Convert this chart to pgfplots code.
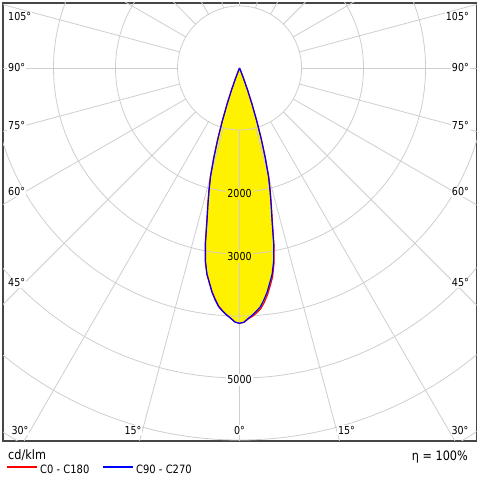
\documentclass[border=0pt]{standalone}
\usepackage{fontspec}
\setmainfont{DejaVu Sans}[FakeStretch=0.87]
\usepackage{pgfplots}
\usepackage{pgfplotstable}
\pgfplotsset{compat=1.18}
\definecolor{gridgray}{RGB}{206,206,206}
\definecolor{framegray}{RGB}{70,70,70}
\definecolor{cred}{RGB}{255,0,0}
\definecolor{cblue}{RGB}{0,0,255}
\newcommand\lbl{\fontsize{11}{12}\selectfont}

% C90 - C270 (negative g: C270 side, positive g: C90 side)
\pgfplotstableread{
g I
-23 0
-22 40
-21 190
-20 390
-19 620
-18 900
-17 1200
-16 1500
-15 1800
-14 2030
-13 2265
-12 2525
-11 2885
-10 3165
-9 3365
-8 3500
-7 3645
-6 3760
-5 3865
-4 3930
-3 3990
-2 4040
-1 4100
0 4118
1 4100
2 4040
3 3990
4 3930
5 3865
6 3760
7 3645
8 3500
9 3365
10 3165
11 2885
12 2525
13 2265
14 2030
15 1800
16 1500
17 1200
18 900
19 620
20 390
21 190
22 40
23 0
}\blueC

% C0 - C180 (negative g: C180 side, positive g: C0 side)
\pgfplotstableread{
g I
-23 0
-22 40
-21 190
-20 390
-19 620
-18 905
-17 1210
-16 1515
-15 1820
-14 2050
-13 2285
-12 2545
-11 2900
-10 3175
-9 3365
-8 3495
-7 3635
-6 3750
-5 3855
-4 3925
-3 3985
-2 4040
-1 4100
0 4118
1 4102
2 4050
3 4010
4 3960
5 3900
6 3805
7 3690
8 3550
9 3410
10 3200
11 2910
12 2550
13 2285
14 2050
15 1820
16 1515
17 1210
18 905
19 620
20 390
21 190
22 40
23 0
}\redC

\begin{document}
\begin{tikzpicture}
\begin{axis}[
  at={(0,0)}, anchor=south west,
  scale only axis, width=473.5bp, height=438bp,
  xmin=-3815, xmax=3822, ymin=-6016, ymax=1048,
  xtick=\empty, ytick=\empty,
  axis line style={framegray, line width=1.3bp},
  clip mode=global,
]
\addplot[fill=yellow, draw=none, data cs=polar] table[x expr=\thisrow{g}-90, y=I]{\redC};
\addplot[fill=yellow, draw=none, data cs=polar] table[x expr=\thisrow{g}-90, y=I]{\blueC};
% grid
\pgfplotsinvokeforeach{1000,2000,...,7000}{\draw[gridgray, line width=0.8bp] (0,0) circle[radius=#1];}
\pgfplotsinvokeforeach{0,15,...,345}{\draw[gridgray, line width=0.8bp] ({1000*cos(#1)},{1000*sin(#1)}) -- ({8000*cos(#1)},{8000*sin(#1)});}
% curves
\addplot[cred, line width=1.2bp, line join=round, data cs=polar] table[x expr=\thisrow{g}-90, y=I]{\redC};
\addplot[cblue, line width=1.2bp, line join=round, data cs=polar] table[x expr=\thisrow{g}-90, y=I]{\blueC};
% radial labels
\node[fill=yellow, inner sep=1.5bp, font=\lbl] at (0,-2032) {2000};
\node[fill=yellow, inner sep=1.5bp, font=\lbl] at (0,-3048) {3000};
\node[fill=white, inner sep=1.5bp, font=\lbl] at (0,-5032) {5000};
% angle labels left
\node[fill=white, inner sep=1bp, anchor=west, font=\lbl] at (-3750,823) {105°};
\node[fill=white, inner sep=1bp, anchor=west, font=\lbl] at (-3750,0) {90°};
\node[fill=white, inner sep=1bp, anchor=west, font=\lbl] at (-3750,-935) {75°};
\node[fill=white, inner sep=1bp, anchor=west, font=\lbl] at (-3750,-2000) {60°};
\node[fill=white, inner sep=1bp, anchor=west, font=\lbl] at (-3750,-3468) {45°};
% angle labels right
\node[fill=white, inner sep=1bp, anchor=east, font=\lbl] at (3718,823) {105°};
\node[fill=white, inner sep=1bp, anchor=east, font=\lbl] at (3718,0) {90°};
\node[fill=white, inner sep=1bp, anchor=east, font=\lbl] at (3718,-935) {75°};
\node[fill=white, inner sep=1bp, anchor=east, font=\lbl] at (3718,-2000) {60°};
\node[fill=white, inner sep=1bp, anchor=east, font=\lbl] at (3718,-3468) {45°};
% angle labels bottom
\node[fill=white, inner sep=1bp, font=\lbl] at (-3540,-5839) {30°};
\node[fill=white, inner sep=1bp, font=\lbl] at (-1718,-5839) {15°};
\node[fill=white, inner sep=1bp, font=\lbl] at (0,-5839) {0°};
\node[fill=white, inner sep=1bp, font=\lbl] at (1726,-5839) {15°};
\node[fill=white, inner sep=1bp, font=\lbl] at (3556,-5839) {30°};
\end{axis}
\pgfresetboundingbox
\useasboundingbox (-3bp,-39bp) rectangle (477bp,441bp);
\node[anchor=base west, inner sep=0pt, font=\fontsize{13}{14}\selectfont] at (5bp,-18bp) {cd/klm};
\node[anchor=base east, inner sep=0pt, font=\fontsize{13}{14}\selectfont] at (465bp,-19bp) {η = 100\%};
\draw[cred, line width=1.3bp] (4bp,-26bp) -- (34bp,-26bp);
\node[anchor=base west, inner sep=0pt, font=\fontsize{11.5}{13}\selectfont] at (37bp,-32bp) {C0 - C180};
\draw[cblue, line width=1.3bp] (100bp,-26bp) -- (130bp,-26bp);
\node[anchor=base west, inner sep=0pt, font=\fontsize{11.5}{13}\selectfont] at (133bp,-32bp) {C90 - C270};
\end{tikzpicture}
\end{document}
